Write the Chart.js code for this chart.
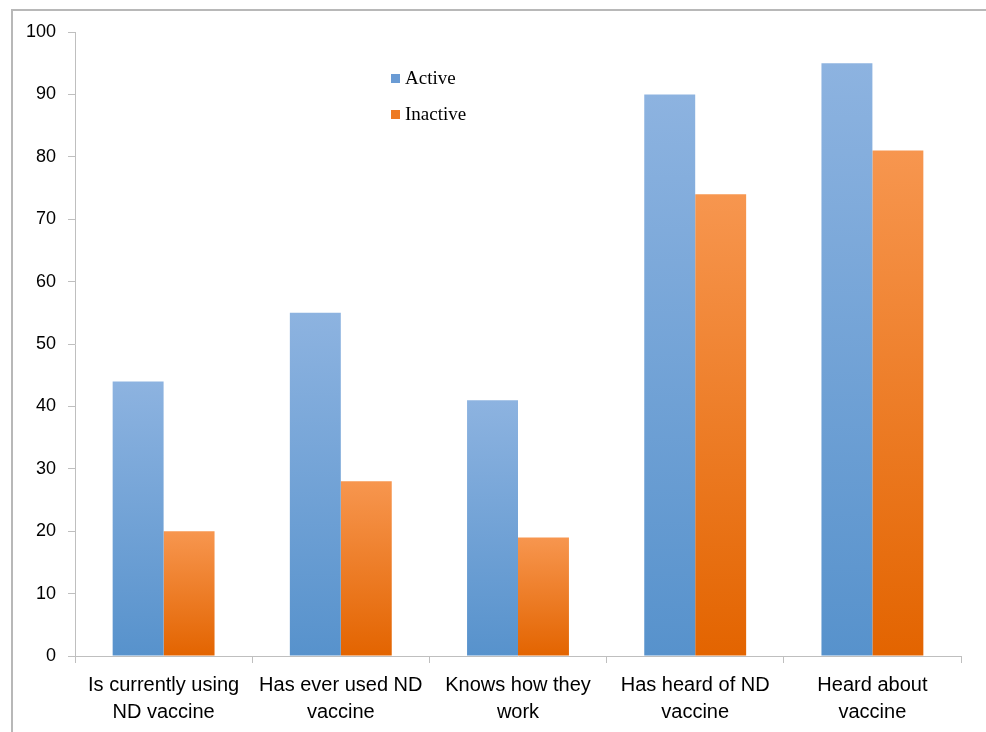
<!DOCTYPE html>
<html>
<head>
<meta charset="utf-8">
<script src="https://cdn.jsdelivr.net/npm/chart.js@4/dist/chart.umd.min.js"></script>
<style>
html,body{margin:0;padding:0;background:#fff;}
#wrap{width:986px;height:732px;position:relative;}
</style>
</head>
<body>
<div id="wrap"><canvas id="c" width="986" height="732"></canvas></div>
<script>
const categories = [
  ["Is currently using", "ND vaccine"],
  ["Has ever used ND", "vaccine"],
  ["Knows how they", "work"],
  ["Has heard of ND", "vaccine"],
  ["Heard about", "vaccine"]
];
const activeValues = [44, 55, 41, 90, 95];
const inactiveValues = [20, 28, 19, 74, 81];
const seriesNames = ["Active", "Inactive"];
const yTicks = [0, 10, 20, 30, 40, 50, 60, 70, 80, 90, 100];

function barGradient(ctx, top, bottom) {
  const chart = ctx.chart;
  const ys = chart.scales && chart.scales.y;
  if (!ys || ctx.parsed === undefined || !chart.chartArea) return top;
  const yTop = ys.getPixelForValue(ctx.parsed.y);
  const yBot = ys.getPixelForValue(0);
  const g = chart.ctx.createLinearGradient(0, yTop, 0, yBot);
  g.addColorStop(0, top);
  g.addColorStop(1, bottom);
  return g;
}

const frame = {
  id: 'frame',
  beforeDraw(chart) {
    const c = chart.ctx;
    c.save();
    c.strokeStyle = '#b8b8b8';
    c.lineWidth = 2;
    c.beginPath();
    c.moveTo(12, 732);
    c.lineTo(12, 10);
    c.lineTo(986, 10);
    c.stroke();
    c.restore();
  }
};

const legendInside = {
  id: 'legendInside',
  afterDraw(chart) {
    const c = chart.ctx;
    c.save();
    c.font = '19px "Liberation Serif", "Times New Roman", serif';
    c.textBaseline = 'middle';
    const items = [
      {label: chart.data.datasets[0].label, color: '#6a9bd4', y: 79},
      {label: chart.data.datasets[1].label, color: '#ee7a22', y: 115}
    ];
    items.forEach(it => {
      c.fillStyle = it.color;
      c.fillRect(391, it.y - 5, 9, 9);
      c.fillStyle = '#000';
      c.fillText(it.label, 405, it.y);
    });
    c.restore();
  }
};

new Chart(document.getElementById('c'), {
  type: 'bar',
  data: {
    labels: categories,
    datasets: [
      {
        label: seriesNames[0],
        data: activeValues,
        backgroundColor: ctx => barGradient(ctx, '#8db3e0', '#5792cc'),
        borderWidth: 0
      },
      {
        label: seriesNames[1],
        data: inactiveValues,
        backgroundColor: ctx => barGradient(ctx, '#f7964f', '#e36400'),
        borderWidth: 0
      }
    ]
  },
  options: {
    responsive: false,
    animation: false,
    devicePixelRatio: 1,
    layout: {padding: {top: 32, right: 25, left: 0, bottom: 0}},
    datasets: {bar: {categoryPercentage: 0.575, barPercentage: 1.0}},
    plugins: {
      legend: {display: false},
      tooltip: {enabled: false}
    },
    scales: {
      x: {
        offset: true,
        grid: {display: true, drawOnChartArea: false, offset: true, tickLength: 7, color: '#bfbfbf', lineWidth: 1},
        border: {display: true, color: '#bfbfbf', width: 1},
        ticks: {
          color: '#000',
          font: {family: '"Liberation Sans", Arial, sans-serif', size: 20, lineHeight: 1.35},
          padding: 9,
          maxRotation: 0,
          autoSkip: false
        },
        afterFit(scale) { scale.height = 76; }
      },
      y: {
        min: 0,
        max: 100,
        afterBuildTicks(scale) { scale.ticks = yTicks.map(v => ({value: v})); },
        grid: {display: true, drawOnChartArea: false, tickLength: 7, color: '#bfbfbf', lineWidth: 1},
        border: {display: true, color: '#bfbfbf', width: 1},
        ticks: {
          color: '#000',
          font: {family: '"Liberation Sans", Arial, sans-serif', size: 18},
          padding: 12
        },
        afterFit(scale) { scale.width = 75; }
      }
    }
  },
  plugins: [frame, legendInside]
});
</script>
</body>
</html>
